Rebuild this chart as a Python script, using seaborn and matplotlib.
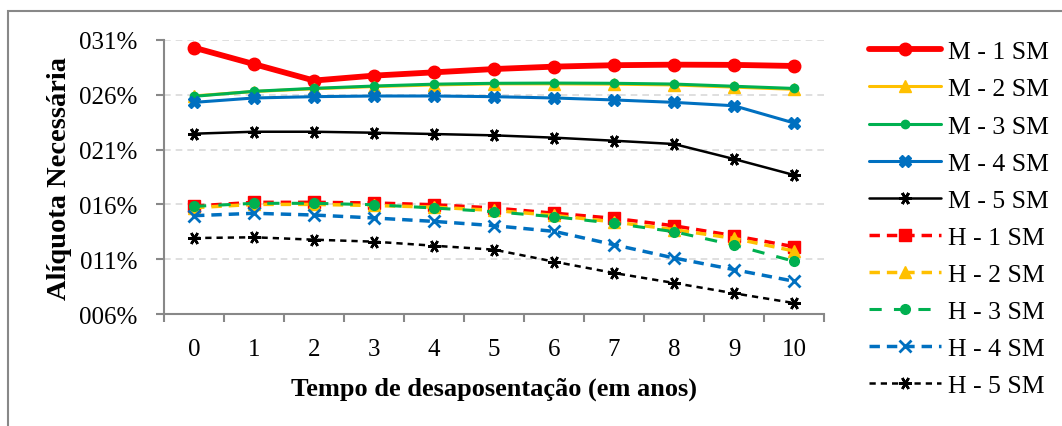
import numpy as np
import pandas as pd
import matplotlib
matplotlib.use("Agg")
import matplotlib.pyplot as plt
import seaborn as sns
from matplotlib.patches import Rectangle
from matplotlib.ticker import FuncFormatter, FixedLocator

# Data (aliquota in %)
years = list(range(11))
labels = ["M - 1 SM", "M - 2 SM", "M - 3 SM", "M - 4 SM", "M - 5 SM",
          "H - 1 SM", "H - 2 SM", "H - 3 SM", "H - 4 SM", "H - 5 SM"]
m1 = [30.3, 28.8, 27.3, 27.75, 28.05, 28.35, 28.57, 28.7, 28.75, 28.73, 28.63]
m2 = [25.9, 26.3, 26.55, 26.75, 26.9, 27.0, 27.0, 26.97, 26.9, 26.7, 26.5]
m3 = [25.86, 26.32, 26.59, 26.8, 26.97, 27.05, 27.07, 27.05, 26.98, 26.78, 26.58]
m4 = [25.31, 25.71, 25.83, 25.89, 25.89, 25.83, 25.71, 25.53, 25.31, 25.0, 23.43]
m5 = [22.45, 22.63, 22.63, 22.54, 22.42, 22.3, 22.09, 21.81, 21.51, 20.14, 18.68]
h1 = [15.85, 16.19, 16.19, 16.13, 15.97, 15.67, 15.2, 14.73, 14.05, 13.14, 12.14]
h2 = [15.7, 16.0, 16.0, 15.9, 15.75, 15.45, 15.0, 14.4, 13.7, 12.9, 11.75]
h3 = [15.82, 16.1, 16.1, 15.97, 15.67, 15.33, 14.88, 14.27, 13.51, 12.29, 10.81]
h4 = [14.97, 15.19, 15.03, 14.76, 14.45, 14.06, 13.54, 12.32, 11.11, 10.05, 8.99]
h5 = [12.93, 13.0, 12.78, 12.6, 12.23, 11.87, 10.78, 9.74, 8.83, 7.89, 7.0]
series = [m1, m2, m3, m4, m5, h1, h2, h3, h4, h5]
yticks = [0.06, 0.11, 0.16, 0.21, 0.26, 0.31]

red, yellow, green, blue, black = "#FF0000", "#FFC000", "#00B050", "#0070C0", "#000000"
star = (6, 2, 90)
styles = [
    dict(color=red, lw=4.2, marker="o", ms=9, mew=1, ls="-"),
    dict(color=yellow, lw=2.2, marker="^", ms=8, mew=1, ls="-"),
    dict(color=green, lw=2.2, marker="o", ms=6, mew=1, ls="-"),
    dict(color=blue, lw=2.2, marker="X", ms=8, mew=1, ls="-"),
    dict(color=black, lw=1.8, marker=star, ms=9, mew=2, ls="-"),
    dict(color=red, lw=2.5, marker="s", ms=8, mew=1, ls=(0, (3, 2))),
    dict(color=yellow, lw=2.5, marker="^", ms=8, mew=1, ls=(0, (3, 2))),
    dict(color=green, lw=2.2, marker="o", ms=7, mew=1, ls=(0, (4, 4))),
    dict(color=blue, lw=2.5, marker="x", ms=9, mew=2, ls=(0, (3, 2))),
    dict(color=black, lw=1.8, marker=star, ms=9, mew=1.8, ls=(0, (2.5, 2))),
]

sns.set_style("white")
plt.rcParams["font.family"] = ["Liberation Serif", "DejaVu Serif"]
plt.rcParams["text.color"] = "black"
plt.rcParams["axes.labelcolor"] = "black"
plt.rcParams["xtick.labelcolor"] = "black"
plt.rcParams["ytick.labelcolor"] = "black"

fig = plt.figure(figsize=(10.62, 4.27), dpi=100)
fig.patches.append(Rectangle((8 / 1062, -0.1), 1.2, (427 - 12) / 427 + 0.1,
                             transform=fig.transFigure, fill=False,
                             edgecolor="#888888", lw=1.5))
ax = fig.add_axes([164 / 1062, 1 - 315 / 427, 660 / 1062, 274 / 427])

for lab, vals, st in zip(labels, series, styles):
    df = pd.DataFrame({"ano": years, "val": np.array(vals) / 100})
    sns.lineplot(data=df, x="ano", y="val", ax=ax, label=lab, color=st["color"],
                 linewidth=st["lw"], linestyle=st["ls"], marker=st["marker"],
                 markersize=st["ms"], markeredgewidth=st["mew"],
                 markeredgecolor=st["color"], legend=False)

ax.set_xlim(-0.5, 10.5)
ax.set_ylim(0.06, 0.31)
ax.set_xticks(years)
ax.xaxis.set_minor_locator(FixedLocator(np.arange(-0.5, 11, 1)))
ax.set_yticks(yticks)
ax.yaxis.set_major_formatter(FuncFormatter(lambda v, p: f"{round(v * 100):03d}%"))
ax.tick_params(axis="x", which="major", length=0, pad=17, labelsize=18, labelcolor="black")
ax.tick_params(axis="x", which="minor", length=6, width=1.5, color="#888888", direction="out", bottom=True)
ax.tick_params(axis="y", length=6, width=1.5, color="#888888", direction="out", left=True,
               labelsize=18, pad=13, labelcolor="black")
ax.grid(axis="y", color="#D9D9D9", ls=(0, (4, 3)), lw=1.2)
ax.set_axisbelow(True)
for s in ["top", "right"]:
    ax.spines[s].set_visible(False)
for s in ["left", "bottom"]:
    ax.spines[s].set_color("#888888")
    ax.spines[s].set_linewidth(1.5)

ax.set_xlabel("Tempo de desaposentação (em anos)", fontsize=19, fontweight="bold",
              labelpad=12, color="black")
ax.set_ylabel("Alíquota Necessária", fontsize=20.5, fontweight="bold", labelpad=5, color="black")

handles, labs = ax.get_legend_handles_labels()
fig.legend(handles, labs, loc="upper left", bbox_to_anchor=(859 / 1062, 1 - 31 / 427),
           frameon=False, fontsize=18.5, handlelength=2.8, handletextpad=0.25,
           labelspacing=0.55, borderaxespad=0, labelcolor="black")

fig.savefig("out.png", dpi=100)
